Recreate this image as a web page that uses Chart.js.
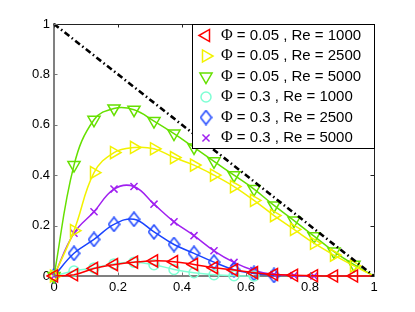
<!DOCTYPE html>
<html>
<head>
<meta charset="utf-8">
<script src="https://cdn.jsdelivr.net/npm/chart.js"></script>
<style>
  html, body { margin: 0; padding: 0; background: #fff; }
  #wrap { width: 415px; height: 312px; }
</style>
</head>
<body>
<div id="wrap"><canvas id="chart" width="415" height="312"></canvas></div>
<script>
// x positions of the samples (1/16 steps)
const xs = [0, 0.0625, 0.125, 0.1875, 0.25, 0.3125, 0.375, 0.4375, 0.5,
            0.5625, 0.625, 0.6875, 0.75, 0.8125, 0.875, 0.9375, 1];

// Phi = 0.05
const phi005Re1000 = [0, 0.005, 0.03, 0.045, 0.055, 0.06, 0.057, 0.046, 0.033,
                      0.024, 0.013, 0.006, 0.003, 0.001, 0, 0, 0];
const phi005Re2500 = [0, 0.18, 0.41, 0.49, 0.51, 0.505, 0.47, 0.44, 0.40,
                      0.355, 0.30, 0.24, 0.185, 0.13, 0.083, 0.04, 0];
const phi005Re5000 = [0, 0.44, 0.62, 0.665, 0.66, 0.615, 0.565, 0.51, 0.455,
                      0.40, 0.345, 0.28, 0.22, 0.158, 0.097, 0.045, 0];
// Phi = 0.3
const phi03Re1000 = [0, 0.02, 0.032, 0.048, 0.055, 0.045, 0.026, 0.013, 0.005, 0.001, 0];
const phi03Re2500 = [0, 0.09, 0.145, 0.205, 0.225, 0.175, 0.125, 0.09, 0.055, 0.025, 0.01, 0.002];
const phi03Re5000 = [0, 0.17, 0.255, 0.345, 0.355, 0.285, 0.215, 0.16, 0.10, 0.054, 0.022, 0.006, 0.002, 0];

// reference line y = 1 - x
const limitX = [0, 1];
const limitY = [1, 0];

const phiLabels = ['0.05', '0.05', '0.05', '0.3', '0.3', '0.3'];
const reLabels = ['1000', '2500', '5000', '1000', '2500', '5000'];
const tickValues = [0, 0.2, 0.4, 0.6, 0.8, 1];

const toPoints = (vals) => vals.map((v, i) => ({ x: xs[i], y: v }));

// tall diamond marker, like the matlab one
function makeDiamond(color) {
  const c = document.createElement('canvas');
  c.width = 13; c.height = 16;
  const g = c.getContext('2d');
  g.strokeStyle = color;
  g.lineWidth = 1.5;
  g.beginPath();
  g.moveTo(6.5, 1); g.lineTo(12, 8); g.lineTo(6.5, 15); g.lineTo(1, 8);
  g.closePath();
  g.stroke();
  return c;
}

const seriesStyle = [
  { color: '#ff0000', pointStyle: 'triangle', rotation: -90, radius: 7 },
  { color: '#f2f200', pointStyle: 'triangle', rotation: 90, radius: 7 },
  { color: '#66e000', pointStyle: 'triangle', rotation: 180, radius: 7 },
  { color: '#7fffd4', pointStyle: 'circle', rotation: 0, radius: 5 },
  { color: '#1a44ff', pointStyle: makeDiamond('#1a44ff'), rotation: 0, radius: 6 },
  { color: '#a020f0', pointStyle: 'crossRot', rotation: 0, radius: 5 }
];
const seriesData = [phi005Re1000, phi005Re2500, phi005Re5000, phi03Re1000, phi03Re2500, phi03Re5000];

const datasets = seriesData.map((vals, i) => {
  const s = seriesStyle[i];
  return {
    label: 'Φ = ' + phiLabels[i] + ' , Re = ' + reLabels[i],
    data: toPoints(vals),
    borderColor: s.color,
    backgroundColor: 'transparent',
    borderWidth: 1.5,
    pointStyle: s.pointStyle,
    pointRotation: s.rotation,
    pointRadius: (ctx) => (ctx.raw && ctx.raw.x === 1 ? 0 : s.radius),
    pointBorderWidth: 1.5,
    pointBorderColor: s.color,
    pointBackgroundColor: 'transparent',
    tension: 0.4,
    clip: { left: 8, top: 0, right: 0, bottom: 8 }
  };
});

datasets.push({
  label: 'limit',
  data: limitX.map((x, i) => ({ x: x, y: limitY[i] })),
  borderColor: '#000',
  borderWidth: 2.6,
  borderDash: [6, 3, 1.5, 3],
  pointRadius: 0,
  order: -1,
  clip: false
});

const axisFont = { family: "'Liberation Sans', Arial, sans-serif", size: 13 };

const boxTicks = {
  id: 'boxTicks',
  afterDatasetsDraw(chart) {
    const { ctx, chartArea: a, scales: { x, y } } = chart;
    const len = 3.5;
    ctx.save();
    ctx.lineWidth = 1;
    ctx.strokeStyle = '#222';
    ctx.beginPath();
    ctx.moveTo(a.left, a.top + 0.5);
    ctx.lineTo(a.right + 0.5, a.top + 0.5);
    ctx.lineTo(a.right + 0.5, a.bottom);
    ctx.stroke();
    x.ticks.forEach(t => {
      const px = Math.round(x.getPixelForValue(t.value)) + 0.5;
      ctx.strokeStyle = '#777';
      ctx.beginPath(); ctx.moveTo(px, a.bottom); ctx.lineTo(px, a.bottom - len); ctx.stroke();
      ctx.strokeStyle = '#222';
      ctx.beginPath(); ctx.moveTo(px, a.top); ctx.lineTo(px, a.top + len); ctx.stroke();
    });
    y.ticks.forEach(t => {
      const py = Math.round(y.getPixelForValue(t.value)) + 0.5;
      ctx.strokeStyle = '#777';
      ctx.beginPath(); ctx.moveTo(a.left, py); ctx.lineTo(a.left + len, py); ctx.stroke();
      ctx.strokeStyle = '#222';
      ctx.beginPath(); ctx.moveTo(a.right, py); ctx.lineTo(a.right - len, py); ctx.stroke();
    });
    ctx.restore();
  }
};

const boxLegend = {
  id: 'boxLegend',
  afterDraw(chart) {
    const ctx = chart.ctx;
    const a = chart.chartArea;
    const left = 192.5, top = a.top + 0.5, right = a.right + 0.5, bottom = 148.5;
    ctx.save();
    ctx.fillStyle = '#fff';
    ctx.fillRect(left, top, right - left, bottom - top);
    ctx.strokeStyle = '#000';
    ctx.lineWidth = 1;
    ctx.strokeRect(left, top, right - left, bottom - top);
    chart.data.datasets.slice(0, 6).forEach((ds, i) => {
      const s = seriesStyle[i];
      const cy = top + 11 + i * 20.5;
      ctx.strokeStyle = s.color;
      ctx.fillStyle = 'transparent';
      ctx.lineWidth = 1.5;
      Chart.helpers.drawPoint(ctx, {
        pointStyle: s.pointStyle, rotation: s.rotation,
        radius: s.radius, borderWidth: 1.5
      }, 206, cy);
      ctx.fillStyle = '#000';
      ctx.textBaseline = 'middle';
      ctx.font = "16px 'Liberation Serif', 'Times New Roman', serif";
      ctx.fillText('Φ', 221, cy);
      const w = ctx.measureText('Φ').width;
      ctx.font = "15px 'Liberation Sans', Arial, sans-serif";
      ctx.fillText(ds.label.slice(1), 221 + w, cy);
    });
    ctx.restore();
  }
};

new Chart(document.getElementById('chart'), {
  type: 'line',
  data: { datasets: datasets },
  options: {
    responsive: false,
    animation: false,
    layout: { padding: { top: 24, right: 41, left: 0, bottom: 0 } },
    plugins: { legend: { display: false }, tooltip: { enabled: false } },
    scales: {
      x: {
        type: 'linear', min: 0, max: 1,
        afterBuildTicks: (scale) => { scale.ticks = tickValues.map(v => ({ value: v })); },
        afterFit: (scale) => { scale.height = 36; },
        grid: { display: false, drawTicks: false },
        border: { color: '#808080', width: 2 },
        ticks: { color: '#000', font: axisFont, padding: 4, maxRotation: 0,
                 callback: (v) => String(v) }
      },
      y: {
        type: 'linear', min: 0, max: 1,
        afterBuildTicks: (scale) => { scale.ticks = tickValues.map(v => ({ value: v })); },
        afterFit: (scale) => { scale.width = 54; },
        grid: { display: false, drawTicks: false },
        border: { color: '#808080', width: 2 },
        ticks: { color: '#000', font: axisFont, padding: 4,
                 callback: (v) => String(v) }
      }
    }
  },
  plugins: [boxTicks, boxLegend]
});
</script>
</body>
</html>
